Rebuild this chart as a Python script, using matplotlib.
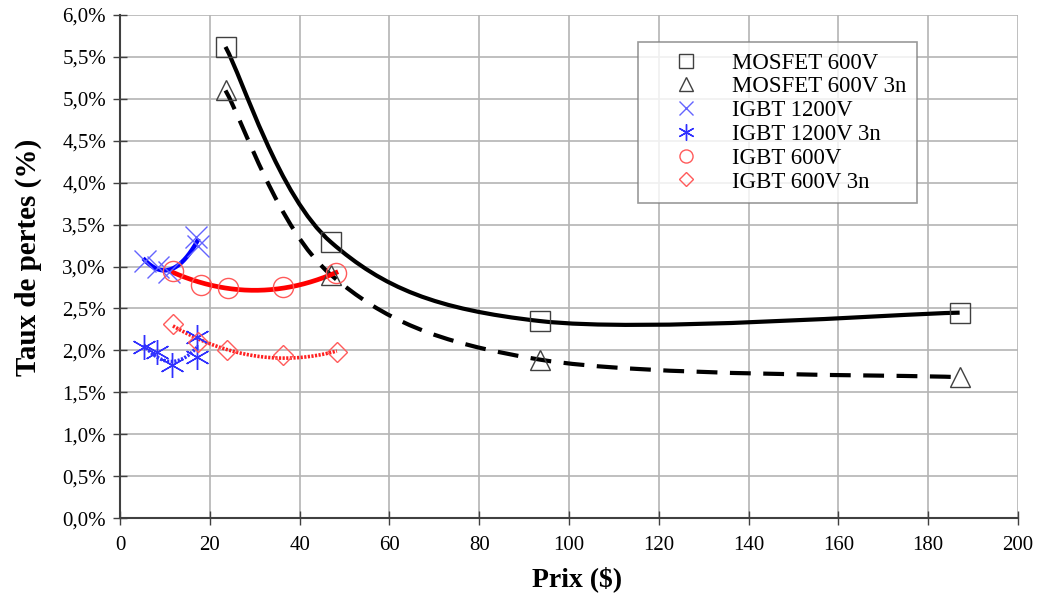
import numpy as np
import matplotlib.pyplot as plt
from matplotlib.path import Path
from matplotlib.patches import PathPatch
from matplotlib.ticker import FuncFormatter, MultipleLocator

plt.rcParams['font.family'] = ['Liberation Serif', 'DejaVu Serif']

# data: price ($) and loss rate (%)
mos_x = [23.5, 47.0, 93.5, 187.0]
mos_y = [5.62, 3.29, 2.35, 2.45]
mos3_x = [23.5, 47.0, 93.5, 187.0]
mos3_y = [5.10, 2.90, 1.89, 1.68]
ig12_x = [5.5, 8.5, 11.0, 17.0, 17.3]
ig12_y = [3.07, 3.00, 2.93, 3.35, 3.25]
ig123_x = [5.3, 8.3, 11.6, 17.1, 17.1]
ig123_y = [2.04, 1.98, 1.82, 2.16, 1.92]
ig6_x = [11.7, 18.0, 24.0, 36.2, 48.1]
ig6_y = [2.95, 2.78, 2.74, 2.76, 2.92]
ig63_x = [11.8, 17.4, 23.8, 36.3, 48.3]
ig63_y = [2.32, 2.10, 2.00, 1.94, 1.98]

fig = plt.figure(figsize=(10.37, 6.01), dpi=100)
ax = fig.add_axes([0.1157, 0.138, 0.866, 0.837])

def trend(x, y, deg, **kw):
    # polynomial trend line
    c = np.polyfit(x, y, deg)
    xs = np.linspace(min(x), max(x), 200)
    ax.plot(xs, np.polyval(c, xs), zorder=3, **kw)

def smooth(x, y, **kw):
    # spreadsheet-like smoothed line (bezier through the points)
    P = np.column_stack([x, y])
    n = len(P)
    verts = [P[0]]
    codes = [Path.MOVETO]
    for i in range(n - 1):
        prev = P[i - 1] if i > 0 else P[i]
        nxt = P[i + 2] if i + 2 < n else P[i + 1]
        c1 = P[i] + (P[i + 1] - prev) / 6
        c2 = P[i + 1] - (nxt - P[i]) / 6
        verts += [c1, c2, P[i + 1]]
        codes += [Path.CURVE4] * 3
    ax.add_patch(PathPatch(Path(verts, codes), fill=False, zorder=3, **kw))

smooth(mos_x, mos_y, edgecolor='black', lw=3, capstyle='butt')
smooth(mos3_x, mos3_y, edgecolor='black', lw=3, linestyle=(0, (5, 3)))
trend(ig12_x, ig12_y, 2, color='#0000ff', lw=3.2)
trend(ig123_x, ig123_y, 2, color='#3030ff', lw=2.6, dashes=(0.6, 0.4))
trend(ig6_x, ig6_y, 2, color='#ff0000', lw=3.4)
trend(ig63_x, ig63_y, 2, color='#ff2020', lw=2.6, dashes=(0.6, 0.4))

ax.plot(mos_x, mos_y, ls='none', marker='s', ms=14.5, mfc='none', mec='#404040',
        mew=1.0, label='MOSFET 600V', zorder=4)
ax.plot(mos3_x, mos3_y, ls='none', marker='^', ms=14.5, mfc='none', mec='#404040',
        mew=1.0, label='MOSFET 600V 3n', zorder=4)
ax.plot(ig12_x, ig12_y, ls='none', marker='x', ms=16, mec='#6464ff',
        mew=1.0, label='IGBT 1200V', zorder=4)
ax.plot(ig123_x, ig123_y, ls='none', marker=(6, 2, 0), ms=18, mec='#3030ff',
        mew=1.0, label='IGBT 1200V 3n', zorder=4)
ax.plot(ig6_x, ig6_y, ls='none', marker='o', ms=14.5, mfc='none', mec='#ff5a5a',
        mew=1.0, label='IGBT 600V', zorder=4)
ax.plot(ig63_x, ig63_y, ls='none', marker='D', ms=10.5, mfc='none', mec='#ff5a5a',
        mew=1.0, label='IGBT 600V 3n', zorder=4)

ax.set_xlim(0, 200)
ax.set_ylim(0, 6.0)
ax.xaxis.set_major_locator(MultipleLocator(20))
ax.yaxis.set_major_locator(MultipleLocator(0.5))
ax.yaxis.set_major_formatter(FuncFormatter(lambda v, p: f'{v:.1f}%'.replace('.', ',')))
ax.grid(True, color='#b4b4b4', lw=1.2)
ax.set_axisbelow(True)
for s in ['top', 'right']:
    ax.spines[s].set_visible(False)
for s in ['left', 'bottom']:
    ax.spines[s].set_color('#404040')
    ax.spines[s].set_linewidth(1.5)
ax.tick_params(direction='inout', length=10, width=1, colors='#404040',
               labelcolor='black', labelsize=15)
ax.tick_params(axis='y', pad=5)
ax.tick_params(axis='x', pad=8)

ax.set_xlabel('Prix ($)', fontsize=20, fontweight='bold')
ax.set_ylabel('Taux de pertes (%)', fontsize=21, fontweight='bold')
ax.xaxis.set_label_coords(0.509, -0.095)
ax.yaxis.set_label_coords(-0.087, 0.519)

leg = ax.legend(loc='upper right', bbox_to_anchor=(0.8875, 0.946), fontsize=16.5,
                markerscale=0.65, frameon=True, fancybox=False, edgecolor='#808080',
                borderpad=0.45, labelspacing=0.12, handlelength=3.3,
                handletextpad=0.35, borderaxespad=0)
leg.get_frame().set_linewidth(1.2)

fig.savefig('out.png', dpi=100)
